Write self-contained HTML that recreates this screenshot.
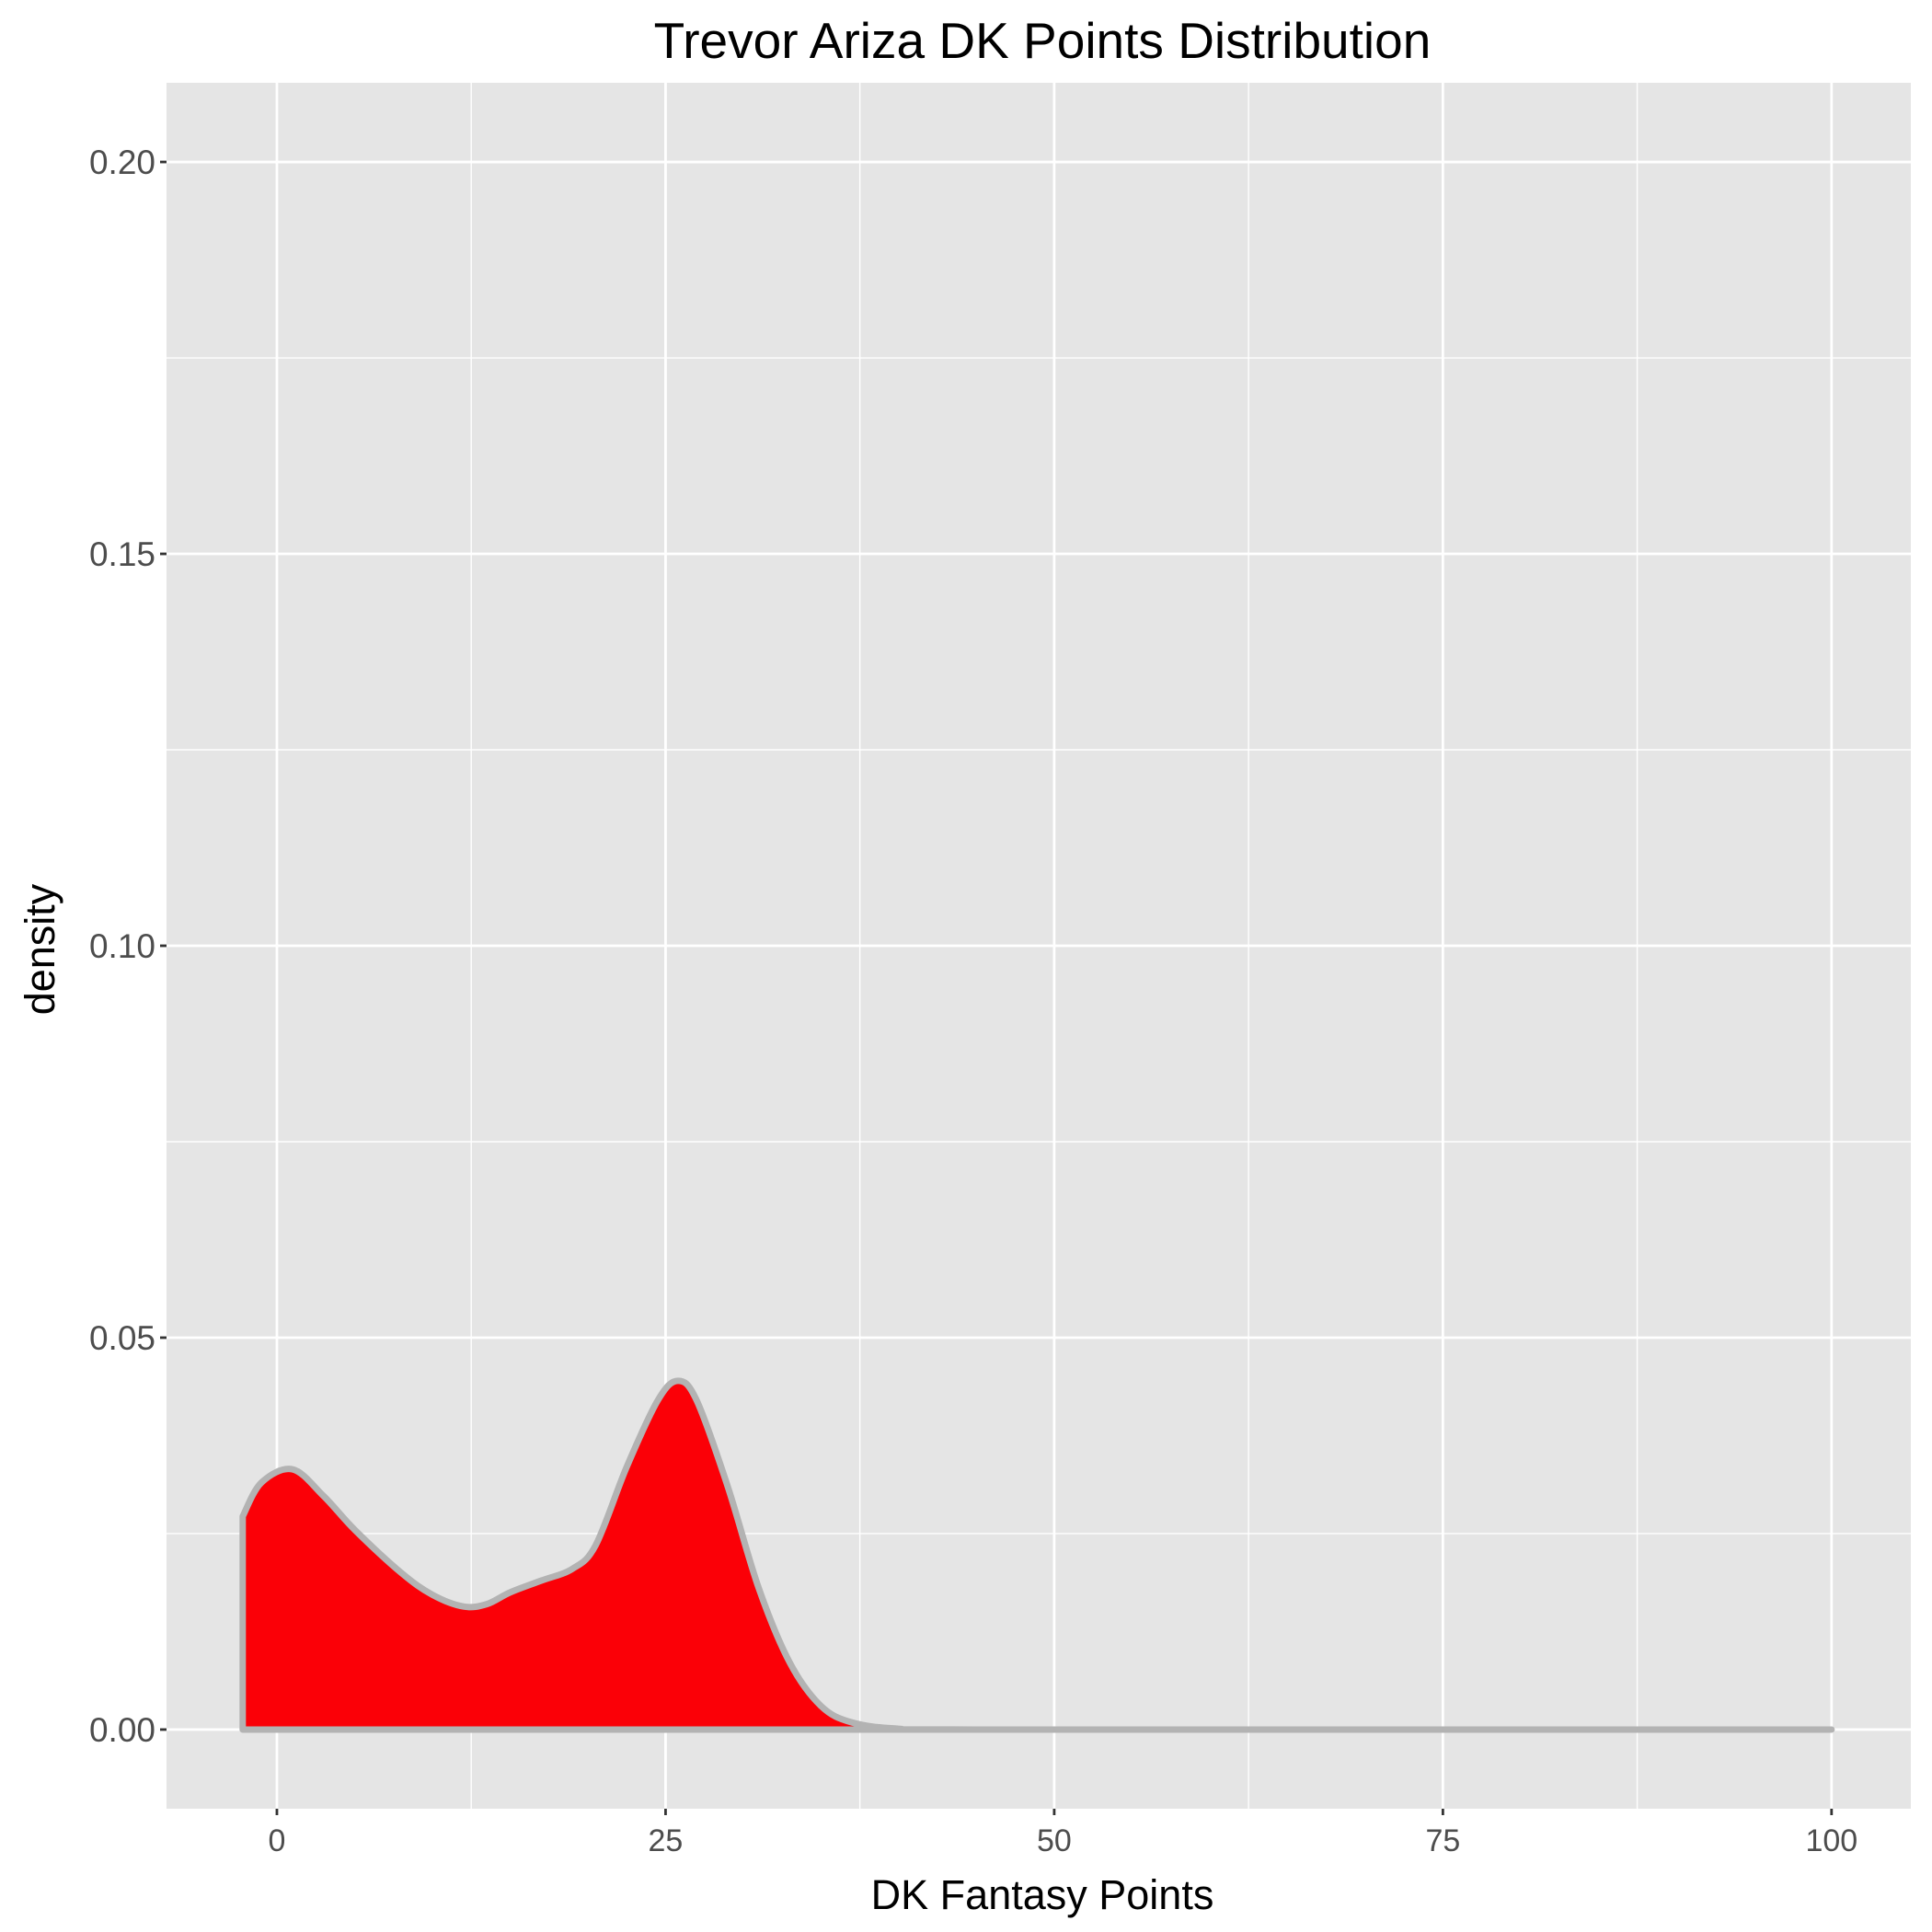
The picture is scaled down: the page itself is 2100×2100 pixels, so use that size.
<!DOCTYPE html>
<html><head><meta charset="utf-8"><style>
html,body{margin:0;padding:0;background:#fff}
svg{display:block}
text{font-family:"Liberation Sans",Arial,sans-serif}
</style></head><body>
<svg id="chart" width="2100" height="2100" viewBox="0 0 2100 2100">
<rect x="0" y="0" width="2100" height="2100" fill="#fff"/>
<rect x="181" y="90" width="1896" height="1876" fill="#e5e5e5"/>
<g id="grid"></g>
<g id="marks"></g>
<g id="axes"></g>
<text x="1133" y="63" font-size="55" text-anchor="middle" fill="#000">Trevor Ariza DK Points Distribution</text>
<text x="1133" y="2075" font-size="45" text-anchor="middle" fill="#000">DK Fantasy Points</text>
<text x="59" y="1032" font-size="45" text-anchor="middle" fill="#000" transform="rotate(-90 59 1032)">density</text>
</svg>
<script>
const xTicks = [0, 25, 50, 75, 100];
const xTickLabels = ["0", "25", "50", "75", "100"];
const yTicks = [0, 0.05, 0.10, 0.15, 0.20];
const yTickLabels = ["0.00", "0.05", "0.10", "0.15", "0.20"];
const pointsX = [-2.2, -1, 1, 3, 5, 8, 10, 12, 13.5, 15, 17, 19, 20.5, 22.5, 24.5, 25.8, 27, 29, 31, 33, 35, 37, 40, 45, 100];
const densityY = [0.0272, 0.0315, 0.0332, 0.0298, 0.0255, 0.0200, 0.0172, 0.0157, 0.0160, 0.0175, 0.0190, 0.0205, 0.0235, 0.0335, 0.0420, 0.0445, 0.0420, 0.0310, 0.0180, 0.0085, 0.0030, 0.0009, 0.0001, 0, 0];

const NS = "http://www.w3.org/2000/svg";
const L = 181, R = 2077, T = 90, B = 1966;
const xMin = -7.1, xMax = 105.1, yMin = -0.0101, yMax = 0.2101;
const sx = v => L + (v - xMin) / (xMax - xMin) * (R - L);
const sy = v => B - (v - yMin) / (yMax - yMin) * (B - T);

function mk(tag, attrs, parent) {
  const e = document.createElementNS(NS, tag);
  for (const k in attrs) e.setAttribute(k, attrs[k]);
  parent.appendChild(e);
  return e;
}
const grid = document.getElementById("grid");
const axes = document.getElementById("axes");
const marks = document.getElementById("marks");

for (let i = 0; i < xTicks.length - 1; i++) {
  const m = (xTicks[i] + xTicks[i + 1]) / 2;
  const g = mk("line", {x1: sx(m), x2: sx(m), y1: T, y2: B, stroke: "#fff", "stroke-width": 1.4}, grid);
  
  
}
for (let i = 0; i < yTicks.length - 1; i++) {
  const m = (yTicks[i] + yTicks[i + 1]) / 2;
  const g = mk("line", {x1: L, x2: R, y1: sy(m), y2: sy(m), stroke: "#fff", "stroke-width": 1.4}, grid);
  
  
}
xTicks.forEach((v, i) => {
  const g = mk("line", {x1: sx(v), x2: sx(v), y1: T, y2: B, stroke: "#fff", "stroke-width": 2.8}, grid);
  
  
  const t = mk("line", {x1: sx(v), x2: sx(v), y1: B, y2: B + 7, stroke: "#333", "stroke-width": 2.8}, axes);
  
  
  const lb = mk("text", {x: sx(v), y: B + 46, "font-size": 34, "text-anchor": "middle", fill: "#4d4d4d"}, axes);
  lb.textContent = xTickLabels[i];
  
  
});
yTicks.forEach((v, i) => {
  const g = mk("line", {x1: L, x2: R, y1: sy(v), y2: sy(v), stroke: "#fff", "stroke-width": 2.8}, grid);
  
  
  const t = mk("line", {x1: L - 7, x2: L, y1: sy(v), y2: sy(v), stroke: "#333", "stroke-width": 2.8}, axes);
  
  
  const lb = mk("text", {x: L - 12, y: sy(v) + 13, "font-size": 37, "text-anchor": "end", fill: "#4d4d4d"}, axes);
  lb.textContent = yTickLabels[i];
  
  
});

const P = pointsX.map((x, i) => [sx(x), sy(densityY[i])]);
const base = sy(0);
let d = "M" + P[0][0] + "," + P[0][1];
for (let i = 0; i < P.length - 1; i++) {
  const p0 = P[Math.max(0, i - 1)], p1 = P[i], p2 = P[i + 1], p3 = P[Math.min(P.length - 1, i + 2)];
  let c1x = p1[0] + (p2[0] - p0[0]) / 6, c1y = p1[1] + (p2[1] - p0[1]) / 6;
  let c2x = p2[0] - (p3[0] - p1[0]) / 6, c2y = p2[1] - (p3[1] - p1[1]) / 6;
  c1y = Math.min(c1y, base); c2y = Math.min(c2y, base);
  d += " C" + c1x + "," + c1y + " " + c2x + "," + c2y + " " + p2[0] + "," + p2[1];
}
const closed = d + " L" + P[P.length - 1][0] + "," + base + " L" + P[0][0] + "," + base + " Z";
const area = mk("path", {d: closed, fill: "#fb0007", stroke: "#b3b3b3", "stroke-width": 7, "stroke-linejoin": "round"}, marks);


</script>
</body></html>
